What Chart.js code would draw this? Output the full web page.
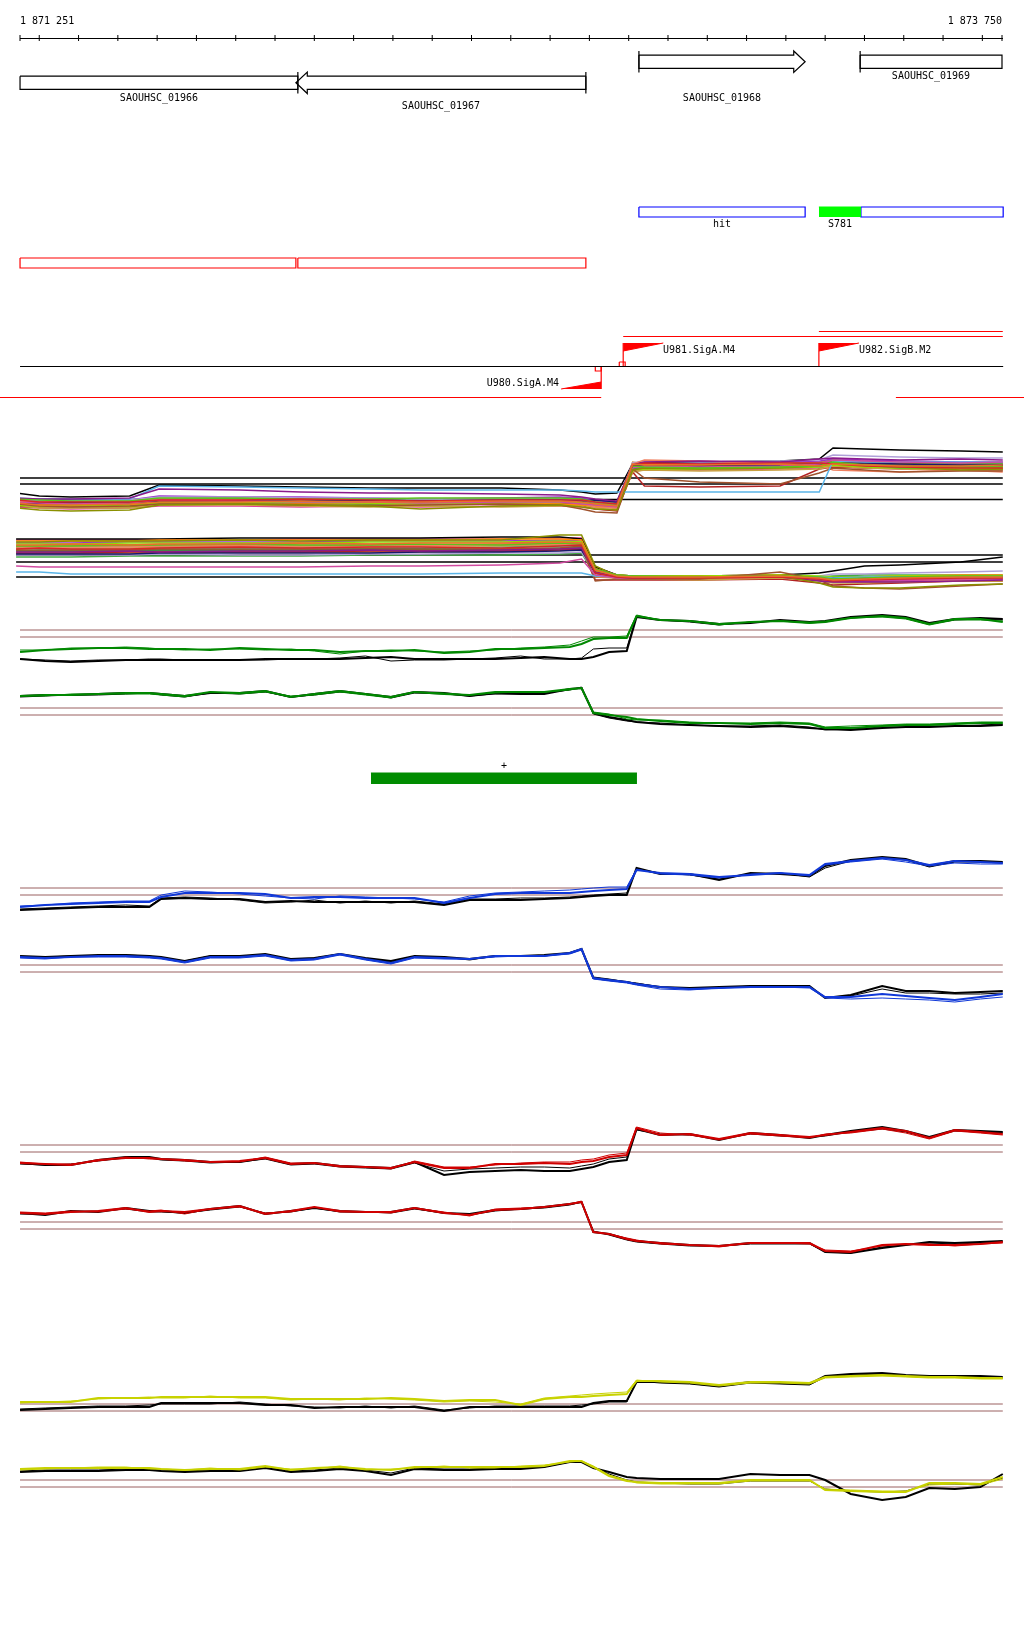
<!DOCTYPE html>
<html><head><meta charset="utf-8">
<script src="https://cdn.jsdelivr.net/npm/chart.js@4.4.1/dist/chart.umd.min.js"></script>
<style>
html,body{margin:0;padding:0;background:#fff;}
#wrap{position:relative;width:1024px;height:1640px;overflow:hidden;background:#fff;}
#wrap canvas{position:absolute;left:0;}
</style></head><body><div id="wrap"></div>
<script>
// ===================== DATA =====================
const VIEW_START = 1871251, VIEW_END = 1873750;
const RULER_TICKS = [1871251,1871300,1871400,1871500,1871600,1871700,1871800,1871900,1872000,1872100,1872200,1872300,1872400,1872500,1872600,1872700,1872800,1872900,1873000,1873100,1873200,1873300,1873400,1873500,1873600,1873700,1873750];

const GENE_NAMES  = ['SAOUHSC_01966','SAOUHSC_01967','SAOUHSC_01968','SAOUHSC_01969'];
const GENE_FROM   = [1870612,1871953,1872826,1873389];
const GENE_TO     = [1871958,1872691,1873249,1874200];
const GENE_STRAND = ['-','-','+','+'];

const ANNOT_NAMES  = ['hit','S781',''];
const ANNOT_FROM   = [1872826,1873284,1873391];
const ANNOT_TO     = [1873249,1873391,1873900];
const ANNOT_FILLED = [false,true,false];

const CDS_FROM = [1870612,1871958];
const CDS_TO   = [1871953,1872691];

const PROMO_NAMES  = ['U980.SigA.M4','U981.SigA.M4','U982.SigB.M2'];
const PROMO_POS    = [1872730,1872786,1873284];
const PROMO_STRAND = ['-','+','+'];
const PROMO_MARK   = [true,true,false];

const TX_FROM   = [1872786,1873284,1871200,1873480];
const TX_TO     = [1873752,1873752,1872730,1873806];
const TX_STRAND = ['+','+','-','-'];

const SEG_FROM = [1872144], SEG_TO = [1872821], SEG_STRAND = ['+'];

// probe positions for the condition tracks
const PROBE_POS = [1871251,1871315,1871380,1871450,1871520,1871580,1871610,1871670,1871735,1871810,1871875,1871940,1872000,1872065,1872130,1872195,1872255,1872330,1872395,1872460,1872525,1872585,1872650,1872680,1872710,1872750,1872795,1872820,1872880,1872955,1873030,1873110,1873185,1873260,1873300,1873365,1873445,1873505,1873565,1873630,1873695,1873752];
// coarser positions for the all-conditions tracks
const SPAG_POS = [1871241,1871300,1871380,1871530,1871605,1871810,1871965,1872140,1872270,1872475,1872625,1872680,1872715,1872770,1872810,1872840,1872980,1873185,1873285,1873320,1873400,1873490,1873645,1873752];

const THRESHOLDS = [8.0, 7.3];
const SPAG_UP_REF = [8.0, 7.4, 5.85];
const SPAG_DOWN_REF = [8.0, 7.3, 5.8];

// all conditions, forward strand
const UP_1  = [5.5,5.3,5.3,5.4,5.6,5.6,5.7,5.6,5.6,5.7,5.7,5.6,5.4,5.2,9.4,9.3,9.3,9.4,9.2,9.4,9.3,9.2,9.2,9.3];
const UP_2  = [5.8,5.6,5.6,5.6,5.8,5.8,5.9,5.8,5.7,5.8,5.8,5.8,5.6,5.4,9.3,9.5,9.4,9.5,9.5,9.4,9.2,9.1,9.0,9.0];
const UP_3  = [5.9,5.8,5.7,5.7,6.0,6.0,5.9,5.9,6.0,6.0,6.0,5.9,5.6,5.4,9.2,9.1,9.0,9.1,9.2,9.6,9.3,9.0,9.1,9.1];
const UP_4  = [5.0,4.8,4.7,4.8,5.3,5.4,5.3,5.2,4.9,5.2,5.3,5.1,4.9,4.8,8.8,9.0,8.9,9.0,9.2,9.5,9.3,9.1,8.8,8.9];
const UP_5  = [6.0,5.9,5.9,6.0,6.9,6.8,6.6,6.5,6.5,6.4,6.3,6.1,5.9,5.7,9.3,9.6,9.7,9.6,9.9,10.0,9.9,9.8,9.9,9.8];
const UP_6  = [5.6,5.5,5.4,5.5,5.8,5.7,5.6,5.6,5.5,5.6,5.6,5.4,5.3,5.1,9.0,9.2,9.1,9.2,9.4,9.8,9.7,9.6,9.5,9.6];
const UP_7  = [6.0,5.9,5.9,5.9,7.2,7.1,7.0,6.9,6.8,6.8,6.8,6.7,6.6,6.6,6.6,6.6,6.6,6.6,6.6,9.7,9.6,9.6,9.6,9.6];
const UP_8  = [5.4,5.2,5.1,5.2,5.4,5.4,5.3,5.2,5.3,5.4,5.3,4.9,4.6,4.5,8.9,8.0,7.6,7.4,8.5,9.0,8.8,8.6,8.7,8.7];
const UP_9  = [5.5,5.5,5.6,5.5,5.7,5.7,5.7,5.8,5.7,5.8,5.8,5.7,5.8,5.6,9.2,9.2,9.2,9.3,9.4,9.5,9.5,9.4,9.3,9.3];
const UP_10 = [5.3,5.2,5.3,5.2,5.5,5.5,5.6,5.5,5.4,5.5,5.6,5.5,5.4,5.2,8.8,8.9,8.9,9.0,9.1,9.3,9.1,9.0,9.0,9.0];
const UP_11 = [5.7,5.6,5.6,5.7,5.9,5.8,5.8,5.7,5.7,5.7,5.6,5.5,5.1,5.0,9.4,9.8,9.7,9.4,9.3,8.8,8.7,8.6,8.8,8.6];
const UP_12 = [5.8,5.8,5.7,5.8,6.1,6.1,6.0,6.0,5.9,5.9,5.9,5.8,5.6,5.4,9.5,9.7,9.6,9.7,9.8,10.3,10.2,10.1,10.0,10.0];
const UP_13 = [5.4,5.3,5.2,5.3,5.6,5.6,5.5,5.5,5.4,5.5,5.4,5.3,5.2,5.0,9.2,9.4,9.3,9.2,9.3,9.6,9.5,9.4,9.3,9.2];
const UP_14 = [5.6,5.5,5.5,5.5,5.7,5.6,5.6,5.6,5.6,5.7,5.7,5.7,5.4,5.2,8.9,9.0,9.1,9.1,9.2,9.7,9.5,9.3,9.2,9.2];
const UP_15 = [5.3,5.0,5.0,5.0,5.3,5.3,5.2,5.1,5.2,5.1,5.2,5.3,5.0,4.8,8.6,8.8,8.7,8.8,8.9,9.2,9.0,8.9,8.8,8.8];
const UP_16 = [6.5,6.2,6.1,6.2,7.3,7.2,7.1,7.0,7.0,7.0,6.8,6.6,6.4,6.5,9.4,9.6,9.6,9.7,9.9,11.0,10.9,10.8,10.7,10.6];
const UP_17 = [5.5,5.4,5.4,5.5,5.6,5.6,5.5,5.6,5.6,5.6,5.6,5.3,4.9,4.7,8.6,7.2,7.1,7.2,8.9,9.1,9.0,9.0,8.9,8.9];
const UP_18 = [5.7,5.6,5.6,5.6,5.9,5.9,5.8,5.8,5.8,5.9,5.9,5.8,5.6,5.4,9.1,9.3,9.2,9.3,9.4,9.8,9.6,9.5,9.4,9.4];
const UP_19 = [5.6,5.5,5.5,5.6,5.8,5.7,5.7,5.7,5.6,5.7,5.8,5.7,5.5,5.4,9.1,9.2,9.2,9.3,9.3,9.5,9.4,9.3,9.3,9.2];
const UP_20 = [5.2,5.1,5.1,5.1,5.4,5.4,5.3,5.3,5.3,5.4,5.4,5.3,5.1,5.0,8.8,9.0,9.0,9.1,9.2,9.4,9.2,9.1,9.1,9.0];
const UP_21 = [5.9,5.7,5.7,5.8,6.2,6.1,6.1,6.0,5.9,6.0,6.1,6.0,5.7,5.6,9.3,9.5,9.5,9.6,9.7,9.9,9.8,9.7,9.6,9.6];
const UP_22 = [5.4,5.4,5.3,5.3,5.5,5.5,5.5,5.4,5.5,5.5,5.5,5.4,5.2,5.0,8.9,9.1,9.0,9.1,9.1,9.6,9.4,9.3,9.2,9.3];
const UP_23 = [5.7,5.7,5.6,5.7,5.8,5.8,5.8,5.8,5.7,5.8,5.8,5.7,5.5,5.3,9.6,9.4,9.4,9.5,9.6,9.8,9.7,9.5,9.4,9.4];
const UP_24 = [5.1,5.0,4.9,5.0,5.2,5.2,5.1,5.2,5.1,5.2,5.2,5.1,4.9,4.8,8.7,8.8,8.8,8.9,9.0,9.2,9.0,8.9,8.9,8.8];
const UP_25 = [5.8,5.6,5.6,5.6,5.9,5.9,5.8,5.9,5.8,5.8,5.9,5.8,5.6,5.5,9.2,9.3,9.3,9.4,9.5,9.7,9.6,9.5,9.5,9.5];
const UP_26 = [5.5,5.4,5.4,5.4,5.6,5.5,5.5,5.5,5.5,5.6,5.6,5.5,5.3,5.1,9.0,9.1,9.1,9.1,9.2,9.4,9.3,9.2,9.1,9.1];

// all conditions, reverse strand
const DN_1  = [9.0,9.0,9.1,9.0,9.1,9.1,9.2,9.1,9.2,9.2,9.3,9.2,6.5,5.9,5.8,5.8,5.8,5.9,5.7,5.5,5.6,5.7,5.8,5.8];
const DN_2  = [8.6,8.7,8.6,8.6,8.7,8.8,8.7,8.8,8.8,8.7,8.9,9.0,6.2,5.8,5.7,5.7,5.7,5.8,5.6,5.4,5.5,5.6,5.7,5.7];
const DN_3  = [8.9,8.9,8.9,9.0,9.0,9.1,9.0,9.0,9.1,9.0,9.2,9.1,6.6,6.0,5.9,5.9,5.8,5.9,5.8,5.6,5.7,5.8,5.9,5.9];
const DN_4  = [9.3,9.3,9.4,9.4,9.4,9.5,9.4,9.5,9.5,9.5,10.0,10.0,6.9,5.9,5.9,5.8,5.7,5.9,5.2,4.8,4.7,4.7,5.0,5.1];
const DN_5  = [8.3,8.3,8.3,8.4,8.3,8.4,8.4,8.5,8.4,8.5,8.6,8.7,6.3,5.8,5.7,5.7,5.8,5.8,5.4,5.3,5.3,5.3,5.4,5.5];
const DN_6  = [6.9,6.8,6.8,6.8,6.8,6.8,6.8,6.9,6.9,7.0,7.2,7.6,6.0,5.7,5.7,5.7,5.7,5.8,5.6,5.4,5.5,5.5,5.6,5.6];
const DN_7  = [6.3,6.3,6.1,6.1,6.1,6.1,6.1,6.1,6.1,6.2,6.2,6.2,5.9,5.8,5.8,5.8,5.8,5.8,5.8,5.7,5.8,5.8,5.8,5.8];
const DN_8  = [8.5,8.5,8.5,8.5,8.6,8.6,8.6,8.6,8.6,8.6,8.7,8.9,5.4,5.6,5.6,5.6,5.6,6.3,5.5,4.9,4.7,4.6,4.9,5.1];
const DN_9  = [8.1,8.1,8.1,8.1,8.2,8.2,8.2,8.2,8.3,8.3,8.4,8.5,6.2,5.8,5.8,5.8,5.8,5.9,5.6,5.7,5.7,5.8,5.8,5.8];
const DN_10 = [9.1,9.1,9.1,9.2,9.2,9.2,9.2,9.3,9.3,9.3,9.4,9.3,6.4,6.0,5.9,5.9,5.9,6.0,5.9,5.8,5.8,5.9,5.9,5.9];
const DN_11 = [8.8,8.8,8.8,8.8,8.9,8.9,8.9,8.9,8.9,9.0,9.1,9.1,6.0,5.7,5.7,5.7,5.7,5.8,5.7,5.6,5.6,5.6,5.5,5.6];
const DN_12 = [8.0,8.0,8.0,8.0,8.1,8.0,8.0,8.1,8.1,8.2,8.2,8.3,6.1,5.8,5.8,5.8,5.8,5.8,5.9,6.1,6.1,6.2,6.3,6.4];
const DN_13 = [9.4,9.4,9.4,9.4,9.5,9.5,9.5,9.5,9.5,9.6,9.6,9.5,6.6,6.0,5.9,5.9,5.9,6.0,5.8,5.7,5.8,5.9,6.0,6.0];
const DN_14 = [8.4,8.4,8.4,8.5,8.5,8.5,8.5,8.6,8.6,8.6,8.7,8.7,6.3,5.8,5.8,5.8,5.8,5.8,5.7,5.5,5.6,5.7,5.8,5.8];
const DN_15 = [8.7,8.7,8.7,8.7,8.8,8.8,8.8,8.8,8.9,8.9,9.0,9.0,6.5,5.7,5.6,5.6,5.5,5.7,5.4,5.2,5.2,5.3,5.4,5.4];
const DN_16 = [9.6,9.6,9.6,9.6,9.6,9.7,9.7,9.7,9.7,9.8,9.8,9.6,6.8,6.0,5.9,5.9,5.9,6.0,6.2,6.4,6.9,7.0,7.3,7.8];
const DN_17 = [8.2,8.2,8.2,8.3,8.3,8.3,8.3,8.4,8.4,8.4,8.5,8.6,5.5,5.5,5.5,5.5,5.5,5.6,5.2,5.0,5.1,5.2,5.4,5.4];
const DN_18 = [7.8,7.8,7.8,7.9,7.9,7.9,7.9,8.0,8.0,8.0,8.1,8.2,6.0,5.8,5.8,5.8,5.8,5.8,5.8,5.9,6.0,6.0,6.0,6.0];
const DN_19 = [8.9,8.9,9.0,9.0,9.0,9.0,9.1,9.1,9.0,9.1,9.2,9.2,6.7,5.9,5.8,5.8,5.8,5.9,5.8,5.6,5.6,5.7,5.8,5.8];
const DN_20 = [8.5,8.4,8.4,8.4,8.5,8.5,8.4,8.5,8.5,8.5,8.6,8.7,6.1,5.7,5.7,5.7,5.7,5.8,5.6,5.5,5.5,5.6,5.7,5.7];
const DN_21 = [9.2,9.2,9.2,9.3,9.3,9.3,9.3,9.4,9.4,9.4,9.5,9.4,6.6,5.9,5.9,5.9,5.9,6.0,5.7,5.4,5.4,5.5,5.7,5.8];
const DN_22 = [8.7,8.6,8.6,8.6,8.7,8.7,8.7,8.7,8.7,8.8,8.9,8.9,6.3,5.8,5.8,5.8,5.8,5.8,5.7,5.6,5.6,5.7,5.7,5.7];
const DN_23 = [8.1,8.2,8.2,8.2,8.2,8.3,8.3,8.3,8.3,8.4,8.5,8.6,5.8,5.7,5.7,5.7,5.7,5.7,5.6,5.5,5.6,5.6,5.7,5.7];
const DN_24 = [9.5,9.5,9.5,9.5,9.5,9.5,9.6,9.6,9.6,9.6,9.7,9.7,6.8,6.0,5.9,5.9,5.9,5.9,5.6,5.3,5.3,5.4,5.6,5.6];
const DN_25 = [8.8,8.9,8.9,8.9,8.9,8.9,8.9,9.0,9.0,9.0,9.1,9.1,6.4,5.8,5.8,5.8,5.8,5.9,5.7,5.6,5.7,5.7,5.8,5.8];
const DN_26 = [8.3,8.4,8.4,8.4,8.4,8.4,8.5,8.5,8.5,8.5,8.6,8.7,6.0,5.7,5.7,5.7,5.7,5.7,5.5,5.4,5.4,5.5,5.6,5.6];

// condition 1 (green)
const G_TOP_A = [5.8,6.0,6.1,6.2,6.2,6.1,6.1,6.1,6.0,6.2,6.1,6.0,6.0,5.8,5.9,5.9,6.0,5.7,5.8,6.1,6.1,6.2,6.3,6.6,7.1,7.2,7.2,9.4,9.0,8.9,8.6,8.8,8.9,8.7,8.8,9.2,9.4,9.2,8.6,9.1,9.1,8.8];
const G_TOP_B = [6.0,6.0,6.2,6.2,6.3,6.2,6.1,6.0,6.1,6.1,6.0,6.1,5.9,5.6,5.9,6.0,5.9,5.8,5.9,6.0,6.2,6.3,6.5,6.9,7.3,7.3,7.4,9.5,9.0,8.9,8.5,8.8,8.9,8.8,8.9,9.2,9.3,9.1,8.5,9.0,9.0,8.9];
const G_TOP_REF_A = [5.1,4.9,4.8,4.9,5.0,5.0,5.0,5.0,5.0,5.0,5.1,5.1,5.1,5.1,5.2,5.3,5.1,5.1,5.1,5.1,5.2,5.3,5.1,5.1,5.3,5.8,5.9,9.3,9.0,8.9,8.6,8.7,9.0,8.8,8.9,9.3,9.5,9.3,8.7,9.1,9.2,9.1];
const G_TOP_REF_B = [5.1,5.0,4.9,5.0,5.0,5.1,5.1,5.0,5.0,5.0,5.0,5.1,5.1,5.2,5.4,4.9,5.0,5.0,5.1,5.2,5.4,5.1,5.1,5.2,6.1,6.2,6.2,9.4,9.0,8.8,8.5,8.8,8.9,8.7,8.8,9.2,9.4,9.2,8.6,9.0,9.1,9.0];
const G_BOT_A = [9.2,9.3,9.3,9.4,9.5,9.5,9.4,9.2,9.6,9.5,9.7,9.1,9.4,9.7,9.4,9.1,9.6,9.4,9.3,9.6,9.6,9.6,9.9,10.0,7.5,7.3,7.1,6.9,6.7,6.5,6.5,6.4,6.5,6.4,6.0,6.0,6.2,6.3,6.3,6.4,6.5,6.5];
const G_BOT_B = [9.2,9.2,9.4,9.4,9.4,9.4,9.3,9.1,9.6,9.4,9.6,9.2,9.3,9.6,9.3,9.0,9.6,9.5,9.3,9.5,9.6,9.6,9.8,10.0,7.6,7.4,6.9,6.8,6.8,6.6,6.5,6.5,6.6,6.5,6.1,6.2,6.3,6.4,6.4,6.5,6.6,6.6];
const G_BOT_REF_A = [9.2,9.3,9.3,9.4,9.5,9.5,9.4,9.2,9.5,9.5,9.7,9.1,9.4,9.7,9.4,9.1,9.6,9.5,9.2,9.5,9.4,9.4,9.9,10.0,7.5,7.1,6.8,6.6,6.4,6.3,6.2,6.1,6.2,6.0,5.9,5.8,6.0,6.1,6.1,6.2,6.2,6.3];
const G_BOT_REF_B = [9.1,9.2,9.3,9.3,9.4,9.5,9.3,9.1,9.5,9.4,9.6,9.1,9.3,9.6,9.4,9.0,9.5,9.4,9.2,9.4,9.4,9.5,9.8,10.1,7.4,7.0,6.7,6.6,6.5,6.3,6.2,6.2,6.3,6.1,5.8,5.9,6.1,6.1,6.2,6.2,6.3,6.4];

// condition 2 (blue)
const B_TOP_A = [6.1,6.3,6.4,6.5,6.6,6.6,7.1,7.5,7.5,7.5,7.4,7.0,7.1,7.1,7.0,7.0,7.0,6.5,7.0,7.4,7.5,7.5,7.5,7.6,7.7,7.8,7.9,9.8,9.5,9.4,9.1,9.3,9.5,9.3,10.4,10.7,11.0,10.8,10.3,10.7,10.6,10.5];
const B_TOP_B = [6.2,6.3,6.5,6.6,6.7,6.7,7.3,7.7,7.6,7.4,7.2,7.0,6.9,7.2,7.1,7.0,6.9,6.6,7.2,7.5,7.6,7.7,7.8,7.9,8.0,8.1,8.1,9.9,9.4,9.3,9.0,9.4,9.5,9.2,10.3,10.6,10.9,10.6,10.2,10.5,10.4,10.4];
const B_TOP_REF_A = [5.8,5.9,6.0,6.1,6.1,6.1,6.9,7.0,6.9,6.9,6.6,6.7,6.6,6.6,6.6,6.6,6.6,6.3,6.8,6.8,6.8,6.9,7.0,7.1,7.2,7.3,7.3,10.0,9.4,9.4,8.8,9.5,9.4,9.2,10.2,10.8,11.1,10.9,10.2,10.7,10.7,10.6];
const B_TOP_REF_B = [5.9,6.0,6.1,6.2,6.3,6.2,7.0,7.1,7.0,6.8,6.5,6.6,6.8,6.5,6.7,6.5,6.7,6.4,6.9,6.9,7.0,7.0,7.1,7.2,7.3,7.4,7.5,9.9,9.5,9.3,8.9,9.4,9.5,9.1,10.0,10.7,11.0,10.8,10.1,10.6,10.6,10.5];
const B_BOT_A = [8.8,8.7,8.8,8.9,8.9,8.8,8.7,8.3,8.8,8.8,9.0,8.5,8.6,9.1,8.6,8.2,8.8,8.7,8.6,8.9,8.9,8.9,9.2,9.6,6.7,6.5,6.3,6.1,5.8,5.6,5.7,5.8,5.8,5.8,4.8,4.8,5.1,4.9,4.7,4.5,4.8,5.1];
const B_BOT_B = [8.7,8.6,8.8,8.8,8.8,8.7,8.6,8.2,8.7,8.7,8.9,8.4,8.5,9.0,8.5,8.1,8.7,8.6,8.6,8.8,8.9,8.9,9.1,9.5,6.6,6.4,6.2,6.0,5.6,5.5,5.7,5.8,5.8,5.7,4.7,4.6,4.7,4.6,4.5,4.3,4.6,4.8];
const B_BOT_REF_A = [8.9,8.8,8.9,9.0,9.0,8.9,8.8,8.4,8.9,8.9,9.1,8.6,8.7,9.1,8.7,8.4,8.9,8.8,8.6,8.9,8.9,9.0,9.2,9.6,6.7,6.5,6.3,6.1,5.8,5.7,5.8,5.9,5.9,5.9,4.7,5.0,5.9,5.4,5.4,5.2,5.3,5.4];
const B_BOT_REF_B = [8.8,8.8,8.9,8.9,9.0,8.9,8.7,8.4,8.9,8.9,9.0,8.5,8.7,9.1,8.6,8.3,8.8,8.8,8.5,8.9,8.9,8.9,9.2,9.6,6.8,6.6,6.3,6.2,5.8,5.6,5.7,5.9,5.9,5.8,4.8,4.9,5.6,5.2,5.2,5.1,5.1,5.2];

// condition 3 (red)
const R_TOP_A = [6.2,6.1,6.0,6.5,6.7,6.7,6.6,6.5,6.3,6.4,6.7,6.1,6.2,5.9,5.8,5.7,6.3,5.7,5.7,6.1,6.1,6.2,6.1,6.3,6.4,6.8,7.0,9.7,9.0,9.1,8.6,9.2,9.0,8.8,9.0,9.3,9.7,9.4,8.7,9.5,9.3,9.1];
const R_TOP_B = [6.3,6.1,6.1,6.4,6.8,6.6,6.6,6.4,6.3,6.3,6.8,6.2,6.2,5.8,5.8,5.6,6.4,5.8,5.8,6.0,6.2,6.3,6.3,6.5,6.6,7.0,7.2,9.8,9.2,9.0,8.5,9.1,8.9,8.7,9.1,9.2,9.6,9.2,8.6,9.4,9.2,9.0];
const R_TOP_REF_A = [6.2,6.0,6.0,6.5,6.8,6.8,6.6,6.5,6.3,6.3,6.7,6.1,6.2,5.9,5.8,5.7,6.3,5.0,5.3,5.4,5.5,5.4,5.4,5.6,5.8,6.3,6.5,9.6,9.0,9.1,8.5,9.2,9.0,8.7,9.0,9.4,9.8,9.4,8.8,9.5,9.4,9.3];
const R_TOP_REF_B = [6.1,6.0,6.1,6.4,6.7,6.7,6.5,6.4,6.2,6.3,6.6,6.0,6.1,5.8,5.7,5.6,6.2,5.4,5.6,5.7,5.8,5.8,5.7,5.9,6.1,6.6,6.8,9.5,9.1,9.0,8.6,9.1,8.9,8.8,8.9,9.3,9.6,9.3,8.7,9.4,9.3,9.2];
const R_BOT_A = [8.9,8.8,9.0,9.1,9.4,9.0,9.1,9.0,9.3,9.6,8.8,9.1,9.5,9.1,9.0,9.0,9.4,8.9,8.7,9.2,9.3,9.5,9.8,10.0,7.0,6.8,6.3,6.1,5.9,5.7,5.6,5.9,5.9,5.9,5.1,5.0,5.7,5.8,5.7,5.7,5.8,6.0];
const R_BOT_B = [9.0,8.9,9.1,9.0,9.3,9.1,9.2,8.8,9.3,9.5,8.9,9.0,9.5,9.0,9.0,8.9,9.4,9.0,8.6,9.3,9.4,9.5,9.8,10.1,7.0,6.8,6.4,6.2,5.8,5.7,5.5,5.9,5.9,5.8,5.2,5.1,5.6,5.8,5.8,5.6,5.8,5.9];
const R_BOT_REF_A = [8.9,8.7,9.1,9.0,9.4,9.1,9.1,8.9,9.3,9.6,8.8,9.1,9.4,9.1,9.0,9.0,9.4,8.9,8.8,9.2,9.3,9.5,9.8,10.0,7.0,6.8,6.3,6.1,5.9,5.7,5.6,5.9,5.9,5.9,5.0,4.9,5.4,5.7,6.0,5.9,6.0,6.1];
const R_BOT_REF_B = [8.8,8.8,9.0,9.1,9.3,9.0,9.0,8.9,9.2,9.5,8.9,9.0,9.4,9.0,9.0,8.9,9.3,8.9,8.7,9.1,9.3,9.4,9.7,10.0,7.1,6.7,6.2,6.0,5.8,5.6,5.6,5.8,5.8,5.8,5.0,4.9,5.5,5.7,5.9,5.8,5.9,6.0];

// condition 4 (yellow)
const Y_TOP_A = [8.2,8.2,8.2,8.6,8.6,8.6,8.7,8.7,8.7,8.7,8.7,8.5,8.5,8.5,8.5,8.6,8.5,8.3,8.4,8.4,7.9,8.5,8.7,8.7,8.8,8.9,9.0,10.3,10.3,10.2,9.9,10.2,10.2,10.1,10.7,10.8,10.9,10.8,10.7,10.7,10.6,10.6];
const Y_TOP_B = [8.1,8.2,8.3,8.5,8.6,8.7,8.6,8.6,8.8,8.6,8.6,8.4,8.5,8.4,8.6,8.5,8.4,8.2,8.3,8.2,8.0,8.6,8.8,8.9,9.0,9.1,9.2,10.4,10.2,10.1,9.8,10.1,10.1,10.0,10.6,10.7,10.8,10.7,10.6,10.6,10.5,10.5];
const Y_TOP_REF_A = [7.4,7.5,7.6,7.7,7.7,7.7,8.1,8.1,8.1,8.1,7.9,7.9,7.6,7.7,7.7,7.7,7.7,7.3,7.7,7.7,7.7,7.7,7.7,7.7,8.1,8.3,8.3,10.2,10.2,10.1,9.8,10.2,10.1,10.0,10.8,11.0,11.1,10.9,10.8,10.8,10.8,10.7];
const Y_TOP_REF_B = [7.5,7.6,7.7,7.8,7.8,7.9,8.0,8.0,8.0,8.2,8.0,7.8,7.7,7.6,7.8,7.6,7.8,7.4,7.6,7.8,7.8,7.8,7.8,7.9,8.0,8.2,8.2,10.3,10.1,10.0,9.7,10.1,10.0,9.9,10.7,10.9,11.0,10.8,10.7,10.7,10.7,10.6];
const Y_BOT_A = [9.1,9.2,9.2,9.2,9.2,9.2,9.1,9.0,9.1,9.1,9.4,9.0,9.2,9.3,9.1,9.0,9.3,9.3,9.3,9.3,9.3,9.4,9.9,9.9,9.3,8.4,7.9,7.8,7.7,7.7,7.7,8.0,8.0,8.0,7.0,6.9,6.8,6.8,7.7,7.7,7.6,8.3];
const Y_BOT_B = [9.0,9.1,9.2,9.3,9.3,9.1,9.1,9.0,9.2,9.0,9.3,9.1,9.1,9.4,9.0,9.1,9.2,9.4,9.2,9.2,9.4,9.5,9.8,9.9,9.4,8.5,8.0,7.7,7.6,7.6,7.6,7.9,7.9,7.9,7.1,7.0,6.9,6.9,7.5,7.6,7.5,8.1];
const Y_BOT_REF_A = [8.8,8.9,8.9,8.9,9.0,9.0,8.9,8.8,8.9,8.9,9.2,8.8,8.9,9.1,8.9,8.5,9.1,9.0,9.0,9.1,9.1,9.3,9.8,9.8,9.2,8.8,8.3,8.2,8.1,8.1,8.1,8.6,8.5,8.5,8.0,6.6,6.0,6.3,7.2,7.1,7.3,8.6];
const Y_BOT_REF_B = [8.9,9.0,9.0,9.0,9.1,9.1,9.0,8.9,9.0,9.0,9.3,8.9,9.0,9.2,9.0,8.7,9.2,9.1,9.1,9.2,9.2,9.3,9.8,9.9,9.3,8.6,8.0,7.8,7.7,7.6,7.6,7.9,7.9,7.9,7.1,6.9,6.8,6.9,7.6,7.6,7.5,8.2];

// ===================== STYLE / LAYOUT =====================
const X_MIN = 1871200, X_MAX = 1873806;       // full canvas width
const FONT = '10px "DejaVu Sans Mono"';
const SPAG_COLORS = ['#e8702a','#d62728','#5cc21c','#8a9000','#8b1a8b','#d04aa0','#5ab4e8','#a0522d','#1a1a6e','#90e000','#f08060','#b0a0d8','#ff8c00','#2e8b57','#c8a040','#000000','#b22222','#44aa44','#ff6347','#808000','#9932cc','#20b2aa','#cd853f','#e0409a','#6b8e23','#e06030'];
const THR_COLOR = '#9a6060';
const LAY = {
  geneRowPlus: 61.7, geneRowMinus: 82.8, boxHalf: 6.6, arrowHalf: 10.7, arrowBp: 29,
  geneLabelY: [97.7,106,97.7,76],
  annotY: 212, annotHalf: 5, annotLabelY: 224,
  cdsY: 263, cdsHalf: 5,
  promoLine: 366.5, flagTopPlus: 343, flagBotPlus: 351, flagBotMinus: 389, flagTopMinus: 382, flagBp: 102,
  plusLabelY: 350, minusLabelY: 383,
  txPlusRows: [336.5, 331.5], txMinusRow: 397.5,
  segTop: 773, segBot: 784, segLabelY: 766
};

// ===================== HELPERS =====================
const wrap = document.getElementById('wrap');
function addCanvas(top, height){
  const c = document.createElement('canvas');
  c.width = 1024; c.height = height;
  c.style.top = top + 'px'; c.style.width = '1024px'; c.style.height = height + 'px';
  wrap.appendChild(c); return c;
}
const clampX = v => Math.min(Math.max(v, VIEW_START), VIEW_END);
const fmtPos = v => String(v).replace(/\B(?=(\d{3})+(?!\d))/g, ' ');
const baseOpts = (xmin, xmax, ymin, ymax, reverse, padLeft) => ({
  responsive:false, animation:false, events:[], maintainAspectRatio:false,
  layout:{padding:{left:padLeft||0,right:0,top:0,bottom:0}},
  plugins:{legend:{display:false}, tooltip:{enabled:false}, title:{display:false}},
  elements:{point:{radius:0}, line:{tension:0, borderJoinStyle:'miter', borderCapStyle:'butt'}},
  scales:{
    x:{type:'linear', min:xmin, max:xmax, display:false},
    y:{type:'linear', min:ymin, max:ymax, reverse:!!reverse, display:false}
  }
});
function textPlugin(items){
  return { id:'txt', afterDatasetsDraw(chart){
    const {ctx, scales:{x, y}} = chart;
    ctx.save(); ctx.font = FONT; ctx.fillStyle = '#000'; ctx.textBaseline = 'middle';
    for (const t of items){
      ctx.textAlign = t.align || 'center';
      ctx.fillText(t.text, Math.round(x.getPixelForValue(t.x) + (t.dx||0)), Math.round(y.getPixelForValue(t.y)));
    }
    ctx.restore();
  }};
}

// ===================== RULER =====================
(function(){
  const c = addCanvas(0, 80);
  new Chart(c, {
    type:'line',
    data:{datasets:[{
      data: RULER_TICKS.map(v => ({x:v, y:0})),
      showLine:false, pointStyle:'line', rotation:90, pointRadius:3, pointBorderColor:'#000',
      pointBorderWidth:1, borderColor:'#000', clip:false
    }]},
    options:{
      responsive:false, animation:false, events:[],
      layout:{padding:{left:20, right:22, top:4, bottom:0}},
      plugins:{legend:{display:false}, tooltip:{enabled:false}},
      scales:{
        x:{type:'linear', position:'top', min:VIEW_START, max:VIEW_END,
           afterBuildTicks: axis => { axis.ticks = RULER_TICKS.map(v => ({value:v})); },
           ticks:{autoSkip:false, maxRotation:0, minRotation:0, align:'inner', padding:11, color:'#000',
                  font:{family:'DejaVu Sans Mono', size:10, lineHeight:1.2},
                  callback: v => (v === VIEW_START || v === VIEW_END) ? fmtPos(v) : ''},
           grid:{display:true, drawTicks:false, drawOnChartArea:false, color:'#000'},
           border:{display:true, color:'#000', width:1}},
        y:{display:false, min:0, max:42, reverse:true}
      }
    }
  });
})();

// ===================== FEATURE TRACKS =====================
(function(){
  const ds = [], texts = [];
  function line(pts, color, width, fillTo, fillColor){
    ds.push({data: pts.map(p => ({x:p[0], y:p[1]})), borderColor:color, borderWidth:width,
      fill: fillTo === undefined ? false : {value: fillTo}, backgroundColor: fillColor || 'transparent',
      pointRadius:0, tension:0});
  }
  function rect(a, b, y0, y1, color, width){
    line([[a,y0],[b,y0],[b,y1],[a,y1],[a,y0]], color, width);
  }
  // genes
  for (let i = 0; i < GENE_NAMES.length; i++){
    const from = GENE_FROM[i], to = GENE_TO[i], st = GENE_STRAND[i];
    const yc = st === '+' ? LAY.geneRowPlus : LAY.geneRowMinus;
    const hb = LAY.boxHalf, ha = LAY.arrowHalf;
    const lo = clampX(from), hi = clampX(to);
    if (st === '+' && to <= VIEW_END){
      const b = to - LAY.arrowBp;
      line([[lo,yc-hb],[b,yc-hb],[b,yc-ha],[to,yc],[b,yc+ha],[b,yc+hb],[lo,yc+hb],[lo,yc-hb]], '#000', 1.2);
    } else if (st === '-' && from >= VIEW_START){
      const b = from + LAY.arrowBp;
      line([[hi,yc-hb],[b,yc-hb],[b,yc-ha],[from,yc],[b,yc+ha],[b,yc+hb],[hi,yc+hb],[hi,yc-hb]], '#000', 1.2);
    } else {
      rect(lo, hi, yc-hb, yc+hb, '#000', 1.2);
    }
    const s = st === '+' ? from : to;
    if (s >= VIEW_START && s <= VIEW_END) line([[s,yc-ha],[s,yc+ha]], '#000', 1.2);
    texts.push({text:GENE_NAMES[i], x:(lo+hi)/2, y:LAY.geneLabelY[i]});
  }
  // annotation (hit / S781)
  for (let i = 0; i < ANNOT_NAMES.length; i++){
    const a = clampX(ANNOT_FROM[i]), b = Math.min(ANNOT_TO[i], VIEW_END + 3);
    const y0 = LAY.annotY - LAY.annotHalf, y1 = LAY.annotY + LAY.annotHalf;
    if (ANNOT_FILLED[i]) line([[a,y0],[b,y0]], '#00ff00', 1, y1, '#00ff00');
    else rect(a, b, y0, y1, '#0000ff', 1.2);
    if (ANNOT_NAMES[i]) texts.push({text:ANNOT_NAMES[i], x:(a+b)/2, y:LAY.annotLabelY});
  }
  // CDS boxes
  for (let i = 0; i < CDS_FROM.length; i++){
    rect(clampX(CDS_FROM[i]), clampX(CDS_TO[i]), LAY.cdsY - LAY.cdsHalf, LAY.cdsY + LAY.cdsHalf, '#ff0000', 1.2);
  }
  // promoter baseline
  line([[VIEW_START, LAY.promoLine],[VIEW_END + 3, LAY.promoLine]], '#000', 1.2);
  // transcripts
  let plusRow = 0;
  for (let i = 0; i < TX_FROM.length; i++){
    const y = TX_STRAND[i] === '+' ? LAY.txPlusRows[plusRow++] : LAY.txMinusRow;
    line([[TX_FROM[i], y],[TX_TO[i], y]], '#ff0000', 1.2);
  }
  // promoters
  for (let i = 0; i < PROMO_NAMES.length; i++){
    const p = PROMO_POS[i];
    if (PROMO_STRAND[i] === '+'){
      line([[p, LAY.promoLine],[p, LAY.flagTopPlus]], '#ff0000', 1.2);
      line([[p, LAY.flagBotPlus],[p + LAY.flagBp, LAY.flagTopPlus]], '#ff0000', 1, LAY.flagTopPlus, '#ff0000');
      if (PROMO_MARK[i]) rect(p - 10, p + 5, LAY.promoLine - 4.5, LAY.promoLine, '#ff0000', 1.2);
      texts.push({text:PROMO_NAMES[i], x:p + LAY.flagBp, y:LAY.plusLabelY, align:'left', dx:0});
    } else {
      line([[p, LAY.promoLine],[p, LAY.flagBotMinus]], '#ff0000', 1.2);
      line([[p - LAY.flagBp, LAY.flagBotMinus],[p, LAY.flagTopMinus]], '#ff0000', 1, LAY.flagBotMinus, '#ff0000');
      if (PROMO_MARK[i]) rect(p - 15, p, LAY.promoLine, LAY.promoLine + 4.5, '#ff0000', 1.2);
      texts.push({text:PROMO_NAMES[i], x:p - LAY.flagBp, y:LAY.minusLabelY, align:'right', dx:-2});
    }
  }
  // segment bar (green)
  for (let i = 0; i < SEG_FROM.length; i++){
    line([[SEG_FROM[i], LAY.segTop],[SEG_TO[i], LAY.segTop]], '#008c00', 1, LAY.segBot, '#008c00');
    texts.push({text:SEG_STRAND[i], x:(SEG_FROM[i] + SEG_TO[i]) / 2, y:LAY.segLabelY});
  }
  const c = addCanvas(0, 800);
  new Chart(c, {type:'line', data:{datasets:ds}, options: baseOpts(X_MIN, X_MAX, 0, 800, true), plugins:[textPlugin(texts)]});
})();

// ===================== EXPRESSION PANELS =====================
function exprPanel(P, xs, lines, refs, refColor, refWidth, refFrom, padLeft, xmin){
  const ds = [];
  for (const l of lines){
    ds.push({data: xs.map((x, i) => ({x, y: l.v[i]})), borderColor:l.c, borderWidth:l.w, fill:false, pointRadius:0, tension:0});
  }
  for (const r of refs){
    ds.push({data:[{x:refFrom, y:r},{x:1873752, y:r}], borderColor:refColor, borderWidth:refWidth, fill:false, pointRadius:0, tension:0});
  }
  const c = addCanvas(P - 40, 100);
  new Chart(c, {type:'line', data:{datasets:ds}, options: baseOpts(xmin || X_MIN, X_MAX, 2, 12, false, padLeft)});
}
function quad(col, A, B, RA, RB){
  return [{v:A, c:col, w:2}, {v:B, c:col, w:1}, {v:RB, c:'#000', w:1}, {v:RA, c:'#000', w:2}];
}

// all-conditions tracks
const UP_ALL = [UP_1,UP_2,UP_3,UP_4,UP_5,UP_6,UP_7,UP_8,UP_9,UP_10,UP_11,UP_12,UP_13,UP_14,UP_15,UP_16,UP_17,UP_18,UP_19,UP_20,UP_21,UP_22,UP_23,UP_24,UP_25,UP_26];
const DN_ALL = [DN_1,DN_2,DN_3,DN_4,DN_5,DN_6,DN_7,DN_8,DN_9,DN_10,DN_11,DN_12,DN_13,DN_14,DN_15,DN_16,DN_17,DN_18,DN_19,DN_20,DN_21,DN_22,DN_23,DN_24,DN_25,DN_26];
exprPanel(478, SPAG_POS, UP_ALL.map((v, i) => ({v, c:SPAG_COLORS[i], w:1.5})), SPAG_UP_REF, '#000', 1.6, VIEW_START, 20, VIEW_START);
exprPanel(555, SPAG_POS, DN_ALL.map((v, i) => ({v, c:SPAG_COLORS[i], w:1.5})), SPAG_DOWN_REF, '#000', 1.6, 1871241);

// condition tracks
exprPanel(630,  PROBE_POS, quad('#008800', G_TOP_A, G_TOP_B, G_TOP_REF_A, G_TOP_REF_B), THRESHOLDS, THR_COLOR, 1, VIEW_START);
exprPanel(708,  PROBE_POS, quad('#008800', G_BOT_A, G_BOT_B, G_BOT_REF_A, G_BOT_REF_B), THRESHOLDS, THR_COLOR, 1, VIEW_START);
exprPanel(888,  PROBE_POS, quad('#1038d8', B_TOP_A, B_TOP_B, B_TOP_REF_A, B_TOP_REF_B), THRESHOLDS, THR_COLOR, 1, VIEW_START);
exprPanel(965,  PROBE_POS, quad('#1038d8', B_BOT_A, B_BOT_B, B_BOT_REF_A, B_BOT_REF_B), THRESHOLDS, THR_COLOR, 1, VIEW_START);
exprPanel(1145, PROBE_POS, quad('#d00000', R_TOP_A, R_TOP_B, R_TOP_REF_A, R_TOP_REF_B), THRESHOLDS, THR_COLOR, 1, VIEW_START);
exprPanel(1222, PROBE_POS, quad('#d00000', R_BOT_A, R_BOT_B, R_BOT_REF_A, R_BOT_REF_B), THRESHOLDS, THR_COLOR, 1, VIEW_START);
exprPanel(1404, PROBE_POS, quad('#c8d200', Y_TOP_A, Y_TOP_B, Y_TOP_REF_A, Y_TOP_REF_B), THRESHOLDS, THR_COLOR, 1, VIEW_START);
exprPanel(1480, PROBE_POS, quad('#c8d200', Y_BOT_A, Y_BOT_B, Y_BOT_REF_A, Y_BOT_REF_B), THRESHOLDS, THR_COLOR, 1, VIEW_START);
</script></body></html>
